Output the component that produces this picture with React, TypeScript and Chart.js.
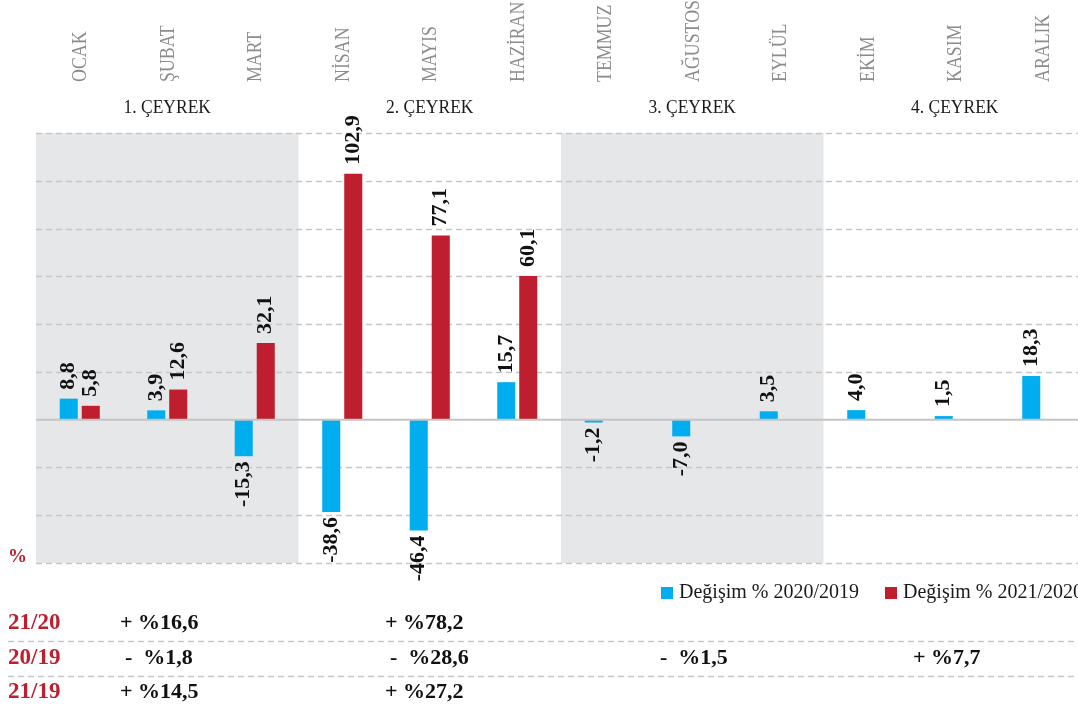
import React, { useEffect, useRef } from "react";
import { Chart, registerables } from "chart.js";

Chart.register(...registerables);

const MONTHS = ["OCAK", "ŞUBAT", "MART", "NİSAN", "MAYIS", "HAZİRAN", "TEMMUZ", "AĞUSTOS", "EYLÜL", "EKİM", "KASIM", "ARALIK"];
const QUARTERS = ["1. ÇEYREK", "2. ÇEYREK", "3. ÇEYREK", "4. ÇEYREK"];
const CHANGE_2020_2019 = [8.8, 3.9, -15.3, -38.6, -46.4, 15.7, -1.2, -7.0, 3.5, 4.0, 1.5, 18.3];
const CHANGE_2021_2020 = [5.8, 12.6, 32.1, 102.9, 77.1, 60.1, null, null, null, null, null, null];
const SERIES_NAMES = ["Değişim % 2020/2019", "Değişim % 2021/2020"];
const Y_TICKS = [-60, -40, -20, 0, 20, 40, 60, 80, 100, 120];
const ROW_LABELS = ["21/20", "20/19", "21/19"];
const ROW_21_20 = ["+ %16,6", "+ %78,2", "", ""];
const ROW_20_19 = ["-  %1,8", "-  %28,6", "-  %1,5", "+ %7,7"];
const ROW_21_19 = ["+ %14,5", "+ %27,2", "", ""];

const BLUE = "#00aeef";
const RED = "#be1e2d";
const SERIF = '"Liberation Serif", "Times New Roman", serif';
const TABLE_X = [120, 385, 655, 913];
const ROW_Y = [623, 658, 692];

const fmt = (v: number) => v.toFixed(1).replace(".", ",");

const decorPlugin = {
  id: "decor",
  beforeDatasetsDraw(chart: any) {
    const ctx = chart.ctx;
    const xs = chart.scales.x;
    const ys = chart.scales.y;
    const area = chart.chartArea;
    const half = (xs.getPixelForValue(1) - xs.getPixelForValue(0)) / 2;
    ctx.save();
    ctx.fillStyle = "#e6e7e8";
    [0, 2].forEach((q) => {
      const l = xs.getPixelForValue(q * 3) - half;
      const r = xs.getPixelForValue(q * 3 + 2) + half;
      ctx.fillRect(l, area.top, r - l, area.bottom - area.top);
    });
    ctx.strokeStyle = "#c6c6c6";
    ctx.lineWidth = 1.5;
    ctx.setLineDash([6, 4]);
    Y_TICKS.forEach((t) => {
      if (t === 0) return;
      const y = Math.round(ys.getPixelForValue(t)) + 0.5;
      ctx.beginPath();
      ctx.moveTo(area.left, y);
      ctx.lineTo(chart.width, y);
      ctx.stroke();
    });
    [641, 676].forEach((y) => {
      ctx.beginPath();
      ctx.moveTo(8, y + 0.5);
      ctx.lineTo(chart.width, y + 0.5);
      ctx.stroke();
    });
    ctx.restore();
  },
  afterDatasetsDraw(chart: any) {
    const ctx = chart.ctx;
    const xs = chart.scales.x;
    const ys = chart.scales.y;
    const area = chart.chartArea;
    ctx.save();
    ctx.strokeStyle = "#c4c4c4";
    ctx.lineWidth = 2;
    const y0 = ys.getPixelForValue(0);
    ctx.beginPath();
    ctx.moveTo(area.left, y0);
    ctx.lineTo(chart.width, y0);
    ctx.stroke();

    ctx.fillStyle = "#111";
    ctx.font = `bold 22px ${SERIF}`;
    ctx.textBaseline = "middle";
    chart.data.datasets.forEach((ds: any, di: number) => {
      const meta = chart.getDatasetMeta(di);
      meta.data.forEach((bar: any, i: number) => {
        const v = ds.data[i];
        if (v === null || v === undefined) return;
        ctx.save();
        ctx.translate(bar.x, bar.y);
        ctx.rotate(-Math.PI / 2);
        if (v >= 0) {
          ctx.textAlign = "left";
          ctx.fillText(fmt(v), 9, 0);
        } else {
          ctx.textAlign = "right";
          ctx.fillText(fmt(v), -5, 0);
        }
        ctx.restore();
      });
    });

    ctx.fillStyle = "#8c8c8c";
    ctx.font = `21px ${SERIF}`;
    MONTHS.forEach((m, i) => {
      ctx.save();
      ctx.translate(xs.getPixelForValue(i) + 1, 82);
      ctx.rotate(-Math.PI / 2);
      ctx.scale(0.85, 1);
      ctx.textAlign = "left";
      ctx.textBaseline = "middle";
      ctx.fillText(m, 0, 0);
      ctx.restore();
    });

    ctx.fillStyle = "#1a1a1a";
    ctx.font = `19px ${SERIF}`;
    ctx.textAlign = "center";
    ctx.textBaseline = "middle";
    QUARTERS.forEach((q, k) => {
      const cx = (xs.getPixelForValue(k * 3) + xs.getPixelForValue(k * 3 + 2)) / 2;
      ctx.save();
      ctx.translate(cx, 108);
      ctx.scale(0.92, 1);
      ctx.fillText(q, 0, 0);
      ctx.restore();
    });

    ctx.fillStyle = RED;
    ctx.font = `bold 19px ${SERIF}`;
    ctx.textAlign = "left";
    ctx.fillText("%", 8, 557);

    const colors = [BLUE, RED];
    const legX = [661, 885];
    ctx.font = `20px ${SERIF}`;
    SERIES_NAMES.forEach((n, k) => {
      ctx.fillStyle = colors[k];
      ctx.fillRect(legX[k], 587, 12, 12);
      ctx.fillStyle = "#1a1a1a";
      ctx.fillText(n, legX[k] + 18, 593);
    });

    const rows = [ROW_21_20, ROW_20_19, ROW_21_19];
    rows.forEach((row, r) => {
      ctx.fillStyle = RED;
      ctx.font = `bold 23px ${SERIF}`;
      ctx.textAlign = "left";
      ctx.fillText(ROW_LABELS[r], 8, ROW_Y[r]);
      ctx.fillStyle = "#111";
      ctx.font = `bold 22px ${SERIF}`;
      row.forEach((txt, q) => {
        if (!txt) return;
        const x = TABLE_X[q] + (txt.startsWith("-") ? 5 : 0);
        ctx.fillText(txt, x, ROW_Y[r]);
      });
    });
    ctx.restore();
  },
};

export default function App() {
  const ref = useRef<HTMLCanvasElement | null>(null);
  useEffect(() => {
    if (!ref.current) return;
    const chart = new Chart(ref.current, {
      type: "bar",
      data: {
        labels: MONTHS,
        datasets: [
          { label: SERIES_NAMES[0], data: CHANGE_2020_2019, backgroundColor: BLUE, categoryPercentage: 0.503, barPercentage: 0.82 },
          { label: SERIES_NAMES[1], data: CHANGE_2021_2020, backgroundColor: RED, categoryPercentage: 0.503, barPercentage: 0.82 },
        ],
      } as any,
      options: {
        responsive: false,
        animation: false,
        layout: { padding: { left: 36, right: 4, top: 133, bottom: 148 } },
        scales: {
          x: { display: false },
          y: { display: false, min: -60, max: 120 },
        },
        plugins: { legend: { display: false }, tooltip: { enabled: false } },
      },
      plugins: [decorPlugin],
    });
    return () => chart.destroy();
  }, []);
  return (
    <div style={{ position: "absolute", left: 0, top: 0, width: 1078, height: 711, overflow: "hidden", background: "#fff" }}>
      <canvas ref={ref} width={1090} height={711} style={{ display: "block" }} />
    </div>
  );
}
